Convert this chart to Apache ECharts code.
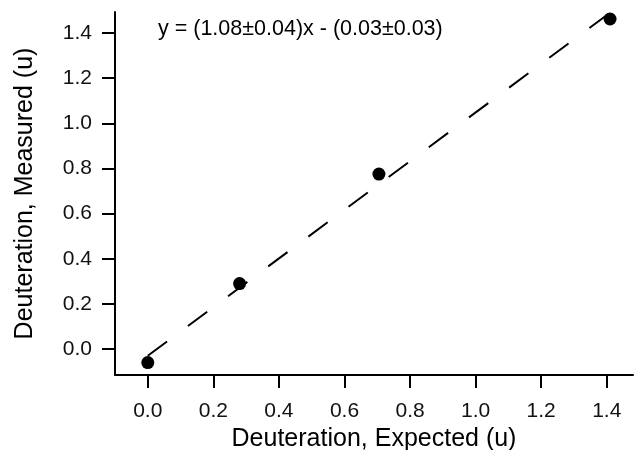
<!DOCTYPE html>
<html>
<head>
<meta charset="utf-8">
<script src="https://cdn.jsdelivr.net/npm/echarts@6/dist/echarts.min.js"></script>
<style>
html,body{margin:0;padding:0;background:#fff;}
#chart{width:634px;height:450px;}
</style>
</head>
<body>
<div id="chart"></div>
<script>
// Data
const expected = [0.0, 0.28, 0.705, 1.41];
const measured = [-0.06, 0.29, 0.775, 1.462];
const fitLine = [[0.0, -0.03], [1.41, 1.49]];
const tickValues = [0, 0.2, 0.4, 0.6, 0.8, 1.0, 1.2, 1.4];
const equationText = 'y = (1.08±0.04)x - (0.03±0.03)';
const xTitle = 'Deuteration, Expected (u)';
const yTitle = 'Deuteration, Measured (u)';

const font = '"Liberation Sans", Arial, sans-serif';
const chart = echarts.init(document.getElementById('chart'), null, {renderer: 'canvas'});
const axisCommon = {
  type: 'value',
  splitLine: {show: false},
  axisLine: {show: true, onZero: false, lineStyle: {color: '#000', width: 2}},
  axisTick: {show: true, inside: false, length: 13, lineStyle: {color: '#000', width: 2}, customValues: tickValues},
  axisLabel: {color: '#111', fontFamily: font, fontSize: 21, customValues: tickValues,
    formatter: v => v.toFixed(1)},
  nameLocation: 'middle',
  nameTextStyle: {color: '#000', fontFamily: font, fontSize: 25}
};
chart.setOption({
  animation: false,
  backgroundColor: '#fff',
  title: {
    text: equationText, left: 158, top: 18, padding: 0,
    textStyle: {fontFamily: font, fontSize: 21.5, fontWeight: 'normal', color: '#000'}
  },
  grid: {left: 115, right: 1, top: 12, bottom: 75, containLabel: false, outerBoundsMode: 'none'},
  xAxis: Object.assign({}, axisCommon, {
    min: -0.1, max: 1.48, name: xTitle, nameGap: 48,
    axisLabel: Object.assign({}, axisCommon.axisLabel, {margin: 26})
  }),
  yAxis: Object.assign({}, axisCommon, {
    min: -0.115, max: 1.493, name: yTitle, nameGap: 77,
    axisLabel: Object.assign({}, axisCommon.axisLabel, {margin: 23})
  }),
  series: [
    {
      type: 'line', data: fitLine, symbol: 'none', silent: true,
      lineStyle: {color: '#000', width: 2, type: [24, 26]}
    },
    {
      type: 'scatter', data: expected.map((x, i) => [x, measured[i]]),
      symbol: 'circle', symbolSize: 13, itemStyle: {color: '#000', opacity: 1}
    }
  ]
});
</script>
</body>
</html>
